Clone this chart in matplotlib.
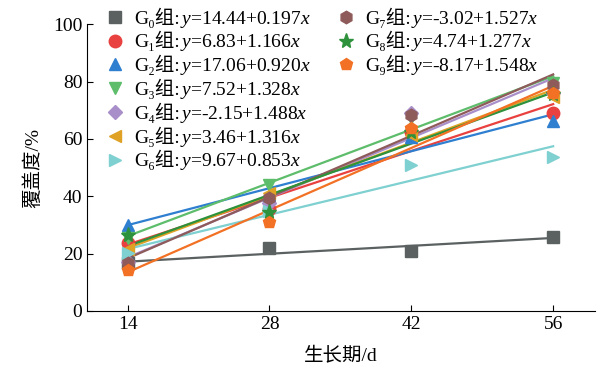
import matplotlib
matplotlib.use('Agg')
import numpy as np
from matplotlib import pyplot as plt

plt.rcParams['font.family'] = ['Liberation Serif', 'Noto Sans CJK SC', 'DejaVu Serif']
plt.rcParams['mathtext.fontset'] = 'custom'
plt.rcParams['mathtext.rm'] = 'Liberation Serif'
plt.rcParams['mathtext.it'] = 'Liberation Serif:italic'

days = [14, 28, 42, 56]

groups = ['G₀', 'G₁', 'G₂', 'G₃', 'G₄', 'G₅', 'G₆', 'G₇', 'G₈', 'G₉']
intercepts = [14.44, 6.83, 17.06, 7.52, -2.15, 3.46, 9.67, -3.02, 4.74, -8.17]
slopes = [0.197, 1.166, 0.920, 1.328, 1.488, 1.316, 0.853, 1.527, 1.277, 1.548]
intercept_txt = ['14.44', '6.83', '17.06', '7.52', '-2.15', '3.46', '9.67', '-3.02', '4.74', '-8.17']
slope_txt = ['0.197', '1.166', '0.920', '1.328', '1.488', '1.316', '0.853', '1.527', '1.277', '1.548']

# coverage (%)
g0 = [16.8, 22.0, 20.8, 25.8]
g1 = [23.7, 35.4, 62.4, 69.1]
g2 = [30.0, 40.3, 60.5, 66.2]
g3 = [25.3, 43.9, 67.4, 79.4]
g4 = [17.1, 37.6, 69.0, 76.0]
g5 = [21.6, 41.2, 61.3, 74.5]
g6 = [20.2, 35.0, 50.9, 53.8]
g7 = [16.7, 39.4, 68.3, 78.7]
g8 = [26.5, 34.6, 62.5, 75.5]
g9 = [14.3, 31.1, 63.8, 76.0]
values = [g0, g1, g2, g3, g4, g5, g6, g7, g8, g9]

colors = ['#5b6161', '#e8413f', '#2f7fd0', '#5dbd6b', '#a98fc9',
          '#dfa225', '#7fd0d0', '#8f5a5a', '#2e913b', '#f27124']
markers = ['s', 'o', '^', 'v', 'D', '<', '>', 'h', '*', 'p']
msizes = [8, 9, 9, 9, 7, 9, 9, 9, 11, 9]

fig = plt.figure(figsize=(6.05, 3.72), dpi=100)
ax = fig.add_axes([0.144, 0.164, 0.839, 0.771])

xfit = np.array([14, 56])
for i in range(len(groups)):
    ax.plot(xfit, intercepts[i] + slopes[i] * xfit, color=colors[i], lw=1.6, zorder=2)

handles = []
for i in range(len(groups)):
    h, = ax.plot(days, values[i], linestyle='none', marker=markers[i], ms=msizes[i],
                 color=colors[i], mec=colors[i], zorder=3)
    handles.append(h)

ax.set_xlim(10, 60.1)
ax.set_ylim(0, 100)
ax.set_xticks(days)
ax.set_yticks([0, 20, 40, 60, 80, 100])
ax.tick_params(direction='in', labelsize=14, length=4, width=0.8)
ax.spines['top'].set_visible(False)
ax.spines['right'].set_visible(False)
ax.set_xlabel('生长期/d', fontsize=14, labelpad=10)
ax.set_ylabel('覆盖度/%', fontsize=14, labelpad=8)

# legend: first part (G组:) as legend label, equation added next to it
prefix = [g + '组:' for g in groups]
leg_kw = dict(loc='upper left', frameon=False, fontsize=14, handlelength=1.0,
              handletextpad=0.5, labelspacing=0.18, borderaxespad=0)
leg1 = ax.legend(handles[:7], prefix[:7], bbox_to_anchor=(0.02, 1.086), **leg_kw)
ax.add_artist(leg1)
leg2 = ax.legend(handles[7:], prefix[7:], bbox_to_anchor=(0.476, 1.086), **leg_kw)

fig.canvas.draw()
renderer = fig.canvas.get_renderer()
texts = list(leg1.get_texts()) + list(leg2.get_texts())
for i, t in enumerate(texts):
    bb = t.get_window_extent(renderer)
    _, _, lp_d = renderer.get_text_width_height_descent('lp', t.get_fontproperties(), ismath=False)
    eq = r'$y$=%s+%s$x$' % (intercept_txt[i], slope_txt[i])
    fig.text(bb.x1 / fig.bbox.width, (bb.y0 + lp_d) / fig.bbox.height, eq,
             fontsize=14, va='baseline', ha='left')

fig.savefig('out.png', dpi=100)
